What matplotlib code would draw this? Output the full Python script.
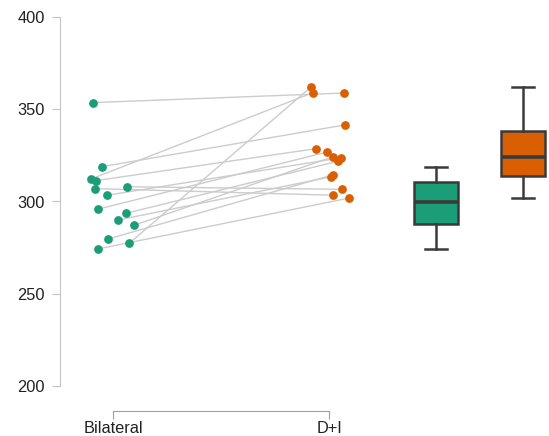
import numpy as np
import matplotlib.pyplot as plt

# pares de valores (Bilateral -> D+I)
bilateral = [353.6, 318.9, 312.2, 311.3, 307.0, 308.0, 303.4, 295.8, 293.6, 290.0, 287.1, 279.7, 277.3, 274.3]
dmasi     = [358.8, 341.5, 359.0, 328.6, 303.4, 306.6, 323.7, 326.8, 321.8, 313.4, 324.3, 314.4, 362.2, 301.9]
# desplazamiento horizontal (jitter)
jit_bil = [-0.093, -0.050, -0.102, -0.080, -0.085, 0.065, -0.026, -0.071, 0.060, 0.025, 0.097, -0.022, 0.075, -0.068]
jit_di  = [0.069, 0.073, -0.074, -0.062, 0.019, 0.060, 0.056, -0.009, 0.040, 0.011, 0.020, 0.017, -0.082, 0.094]
etiquetas = ["Bilateral", "D+I"]
colores = ["#1b9e77", "#d95f02"]

plt.rcParams['font.family'] = ['Liberation Sans', 'DejaVu Sans']

fig = plt.figure(figsize=(5.49, 4.36), dpi=100)
ax = fig.add_axes([60/549, 50/436, 489/549, 369/436])

xb = 0 + np.array(jit_bil)
xd = 1 + np.array(jit_di)

for i in range(len(bilateral)):
    ax.plot([xb[i], xd[i]], [bilateral[i], dmasi[i]], color="#cccccc", lw=1, zorder=1)

ax.plot(xb, bilateral, 'o', color=colores[0], ms=6.3, mec='none', zorder=3)
ax.plot(xd, dmasi, 'o', color=colores[1], ms=6.3, mec='none', zorder=3)

bp = ax.boxplot([bilateral, dmasi], positions=[1.495, 1.898], widths=0.204,
                showfliers=False, patch_artist=True, capwidths=0.1,
                boxprops=dict(edgecolor="#3a3a3a", lw=1.8),
                whiskerprops=dict(color="#3a3a3a", lw=1.8),
                capprops=dict(color="#3a3a3a", lw=1.8),
                medianprops=dict(color="#3a3a3a", lw=2.6))
for caja, c in zip(bp['boxes'], colores):
    caja.set_facecolor(c)

ax.set_xlim(-0.2454, 2.0185)
ax.set_ylim(200, 400)
ax.set_yticks([200, 250, 300, 350, 400])
ax.set_xticks([0, 1])
ax.set_xticklabels(etiquetas)

for s in ['top', 'right']:
    ax.spines[s].set_visible(False)
ax.spines['left'].set_color("#c4c4c4")
ax.spines['bottom'].set_color("#a0a0a0")
ax.spines['bottom'].set_position(('outward', 18))
ax.spines['bottom'].set_bounds(0, 1)
ax.tick_params(axis='y', length=6, color="#c4c4c4", labelsize=11.8, pad=5, labelcolor="#222222")
ax.tick_params(axis='x', length=6, color="#a0a0a0", labelsize=11.8, pad=1.5, labelcolor="#222222")

fig.savefig("out.png", dpi=100)
